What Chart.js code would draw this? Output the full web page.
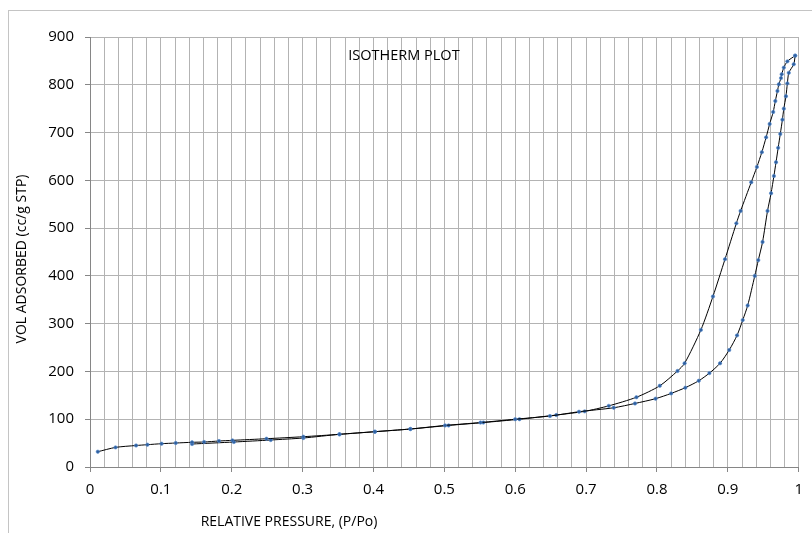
<!DOCTYPE html>
<html>
<head>
<meta charset="utf-8">
<script src="https://cdn.jsdelivr.net/npm/chart.js@4"></script>
<style>
  html, body { margin: 0; padding: 0; background: #fff; }
  #wrap { position: relative; width: 812px; height: 533px; overflow: hidden; }
</style>
</head>
<body>
<div id="wrap"><canvas id="isoChart" width="812" height="533"></canvas></div>
<script>
// adsorption branch (relative pressure, volume)
const adsP = [0.011, 0.036, 0.065, 0.081, 0.101, 0.121, 0.144, 0.161, 0.182, 0.201, 0.249, 0.301,
  0.352, 0.402, 0.452, 0.501, 0.551, 0.600, 0.649, 0.690, 0.739, 0.769, 0.798, 0.820, 0.840, 0.859,
  0.874, 0.889, 0.902, 0.913, 0.921, 0.928, 0.938, 0.943, 0.949, 0.956, 0.961, 0.965, 0.968, 0.971,
  0.974, 0.977, 0.979, 0.982, 0.984, 0.986, 0.993, 0.995];
const adsV = [32, 41, 45, 46.7, 48.8, 50.2, 51.7, 52.3, 54.4, 55.8, 59.2, 63.4,
  68.4, 73.9, 79.5, 87, 93, 100, 106.7, 115.7, 124, 133, 143, 154, 166, 180.5,
  196.5, 217, 245, 275.5, 307.5, 338, 400, 433, 471, 536, 573, 609, 638, 668,
  697, 727, 750, 776, 803, 825, 843, 861];

// desorption branch
const desP = [0.995, 0.984, 0.979, 0.976, 0.975, 0.972, 0.970, 0.967, 0.964, 0.959, 0.954, 0.948,
  0.941, 0.933, 0.918, 0.912, 0.896, 0.879, 0.862, 0.839, 0.829, 0.804, 0.771, 0.732, 0.698, 0.658,
  0.606, 0.555, 0.506, 0.452, 0.402, 0.352, 0.301, 0.255, 0.203, 0.144];
const desV = [861, 849, 836, 822, 814, 801, 787, 766, 743, 718, 690, 659,
  628, 596, 536, 510, 435, 357, 287, 217, 201, 170, 146, 128, 116.5, 108.8,
  100, 93, 87, 79.5, 73.9, 68.4, 60.7, 56.5, 52.3, 48.1];

const xTickLabels = ['0', '0.1', '0.2', '0.3', '0.4', '0.5', '0.6', '0.7', '0.8', '0.9', '1'];
const yTickLabels = ['0', '100', '200', '300', '400', '500', '600', '700', '800', '900'];

const chartTitle = 'ISOTHERM PLOT';
const xTitle = 'RELATIVE PRESSURE, (P/Po)';
const yTitle = 'VOL ADSORBED (cc/g STP)';

const toPoints = (xs, ys) => xs.map((x, i) => ({ x: x, y: ys[i] }));

function isMajor(v) {
    return xTickLabels.some(l => Math.abs(parseFloat(l) - v) < 1e-6);
}

const gridGray = '#b3b3b3';
const tickFont = { family: "'Open Sans'", size: 15 };

// chart frame + text labels
const decor = {
    id: 'decor',
    beforeDraw(chart) {
        const c = chart.ctx;
        c.save();
        c.fillStyle = '#fff';
        c.fillRect(0, 0, chart.width, chart.height);
        c.strokeStyle = '#c4c4c4';
        c.lineWidth = 1;
        c.strokeRect(8.5, 10.5, 900, 700);
        c.restore();
    },
    afterDraw(chart) {
        const c = chart.ctx;
        const a = chart.chartArea;
        c.save();
        c.fillStyle = '#000';
        c.textAlign = 'center';
        c.textBaseline = 'middle';
        c.font = "14.5px 'Open Sans'";
        c.fillText(chartTitle, chart.scales.x.getPixelForValue(0.443), chart.scales.y.getPixelForValue(860));
        c.font = "14px 'Open Sans'";
        c.fillText(xTitle, 289, 522);
        c.translate(22, (a.top + a.bottom) / 2 + 7);
        c.rotate(-Math.PI / 2);
        c.fillText(yTitle, 0, 0);
        c.restore();
    }
};

const lineStyle = {
    showLine: true,
    borderColor: '#000',
    borderWidth: 1,
    tension: 0.25,
    pointRadius: 1.7,
    pointBackgroundColor: '#2f5f9e',
    pointBorderColor: '#5b8ed0',
    pointBorderWidth: 0.6
};

new Chart(document.getElementById('isoChart'), {
    type: 'scatter',
    data: {
        datasets: [
            Object.assign({ label: 'Adsorption', data: toPoints(adsP, adsV) }, lineStyle),
            Object.assign({ label: 'Desorption', data: toPoints(desP, desV) }, lineStyle)
        ]
    },
    options: {
        responsive: false,
        animation: false,
        layout: { padding: { left: 0, right: 12, top: 37, bottom: 0 } },
        plugins: { legend: { display: false }, tooltip: { enabled: false } },
        scales: {
            x: {
                type: 'linear',
                min: 0, max: 1,
                afterFit: s => { s.height = 66; },
                border: { color: '#868686', width: 1 },
                grid: {
                    color: gridGray,
                    lineWidth: 1,
                    tickLength: 5,
                    tickColor: ctx => isMajor(ctx.tick.value) ? '#868686' : 'rgba(0,0,0,0)'
                },
                ticks: {
                    stepSize: 0.02,
                    autoSkip: false,
                    maxRotation: 0,
                    padding: 9,
                    color: '#000',
                    font: tickFont,
                    callback: v => {
                        const l = xTickLabels.find(t => Math.abs(parseFloat(t) - v) < 1e-6);
                        return l === undefined ? '' : l;
                    }
                }
            },
            y: {
                type: 'linear',
                min: 0, max: 900,
                afterFit: s => { s.width = 90; },
                border: { color: '#868686', width: 1 },
                grid: { color: gridGray, lineWidth: 1, tickLength: 5, tickColor: '#868686' },
                ticks: {
                    stepSize: 100,
                    padding: 11,
                    color: '#000',
                    font: tickFont,
                    callback: v => yTickLabels[Math.round(v / 100)]
                }
            }
        }
    },
    plugins: [decor]
});
</script>
</body>
</html>
